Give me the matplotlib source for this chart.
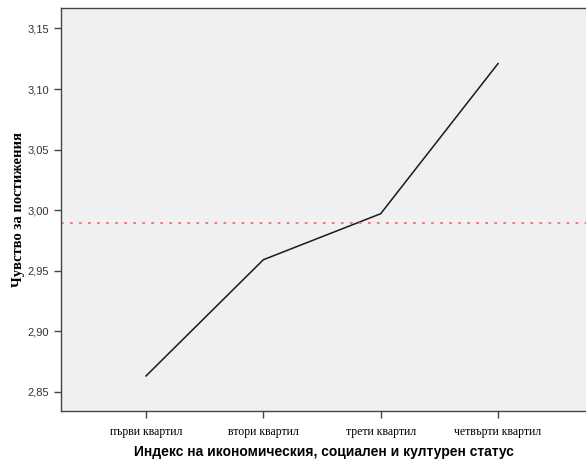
import matplotlib
matplotlib.use("Agg")
import matplotlib.pyplot as plt

categories = ["първи квартил", "втори квартил", "трети квартил", "четвърти квартил"]
means = [2.863, 2.959, 2.997, 3.121]
ref_value = 2.989
yticks = [2.85, 2.90, 2.95, 3.00, 3.05, 3.10, 3.15]

fig = plt.figure(figsize=(5.86, 4.65), dpi=100)
ax = fig.add_axes([0.104, 0.116, 0.896, 0.867])
ax.set_facecolor("#f0f0f0")

x = list(range(len(categories)))
ax.plot(x, means, color="#1a1a1a", lw=1.1)
ax.axhline(ref_value, color="#f07070", lw=1.3, ls=(0, (1.5, 3.5)))

ax.set_xlim(-0.725, 3.75)
ax.set_ylim(2.834, 3.167)
ax.set_xticks(x)
ax.set_xticklabels(categories, family="Liberation Serif", fontsize=8.5)
ax.set_yticks(yticks)
ax.set_yticklabels([("%.2f" % v).replace(".", ",") for v in yticks],
                   family="Liberation Sans", fontsize=8, color="#333333")
ax.tick_params(axis="both", direction="out", length=5, width=1, color="#444444")
ax.tick_params(axis="x", pad=6)

for s in ["left", "bottom", "top"]:
    ax.spines[s].set_color("#444444")
    ax.spines[s].set_linewidth(1)
ax.spines["right"].set_visible(False)

ax.set_xlabel("Индекс на икономическия, социален и културен статус",
              family="Liberation Sans", fontsize=10, fontweight="bold", labelpad=5)
ax.set_ylabel("Чувство за постижения", family="Liberation Serif",
              fontsize=10.5, fontweight="bold", labelpad=2)

fig.savefig("out.png", dpi=100)
